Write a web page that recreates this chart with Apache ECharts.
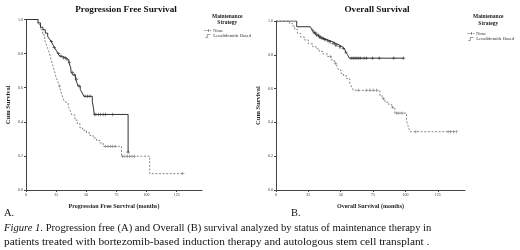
<!DOCTYPE html>
<html><head><meta charset="utf-8">
<script src="https://cdn.jsdelivr.net/npm/echarts@6/dist/echarts.min.js"></script>
<style>html,body{margin:0;padding:0;background:#fff}#c{width:520px;height:250px}</style>
</head><body><div id="c"></div>
<script>
// ---- Data ----
var xTicks = [0, 25, 50, 75, 100, 125];
var yTicks = [0, 0.2, 0.4, 0.6, 0.8, 1.0];
var seriesNames = ['None', 'Lenalidomide Based'];

// Progression free survival - Lenalidomide Based (event times, survival after event)
var pfsLenaT = [0, 10, 12, 14, 16, 18, 19.5, 21, 22.5, 23.5, 25, 26.5, 28, 30, 33, 35.5, 37, 37.5, 39, 41, 42.5, 43, 45, 46.5, 48, 55, 56, 56.6, 84.7];
var pfsLenaS = [1, 0.98, 0.955, 0.94, 0.92, 0.90, 0.885, 0.87, 0.85, 0.835, 0.82, 0.80, 0.785, 0.775, 0.765, 0.748, 0.72, 0.69, 0.675, 0.65, 0.625, 0.61, 0.59, 0.57, 0.55, 0.52, 0.48, 0.443, 0.222];
var pfsLenaCens = [21, 23.5, 27, 29, 31, 32.5, 34, 36, 38.5, 40, 42, 44, 49, 51, 53, 57, 58, 60, 62, 64, 66, 72, 84.7];

// Progression free survival - None
var pfsNoneT = [0, 10, 12, 13.8, 15.5, 17, 18, 19.5, 21, 22, 23.5, 25, 26.2, 27.5, 29, 30.5, 31.7, 33, 35, 36.4, 38, 40.6, 42.5, 44.7, 47, 50.2, 53, 55.7, 58.5, 61.3, 64, 79.2, 102.6, 130];
var pfsNoneS = [1, 0.97, 0.94, 0.91, 0.88, 0.85, 0.83, 0.80, 0.76, 0.735, 0.70, 0.66, 0.64, 0.61, 0.575, 0.545, 0.52, 0.51, 0.49, 0.47, 0.44, 0.41, 0.39, 0.365, 0.35, 0.335, 0.32, 0.305, 0.29, 0.276, 0.256, 0.198, 0.096, 0.096];
var pfsNoneCens = [28, 66, 68, 70, 72, 74, 80, 82, 84, 86, 88, 90, 130];

// Overall survival - Lenalidomide Based
var osLenaT = [0, 16, 26.5, 28, 29.5, 31, 33, 35, 37, 39, 41, 43.7, 46, 48.9, 51, 52.7, 54, 55.3, 56.6, 98.5];
var osLenaS = [1, 0.966, 0.955, 0.945, 0.93, 0.917, 0.905, 0.897, 0.89, 0.885, 0.877, 0.868, 0.858, 0.848, 0.838, 0.828, 0.815, 0.80, 0.78, 0.78];
var osLenaCens = [28.5, 29.5, 30.5, 31.5, 32.5, 33.5, 34.5, 35.5, 36.5, 37.5, 38.5, 40, 41, 42, 44, 45, 46, 47, 49, 50, 52, 54, 58, 59.5, 61, 62.5, 64, 65.5, 68, 70, 74.6, 79.7, 91, 98.5];

// Overall survival - None
var osNoneT = [0, 10.5, 12.9, 14.5, 16.7, 19, 21.9, 25, 28.3, 31, 33.4, 36.5, 39.9, 42.5, 45, 47, 48.5, 50.2, 52, 54.5, 57, 58.5, 59.7, 80.2, 82, 84.1, 87, 89.3, 91.8, 100.8, 102, 103.4, 139.4];
var osNoneS = [1, 0.985, 0.97, 0.95, 0.927, 0.905, 0.888, 0.865, 0.848, 0.835, 0.82, 0.805, 0.79, 0.77, 0.75, 0.73, 0.71, 0.69, 0.675, 0.66, 0.63, 0.61, 0.59, 0.56, 0.54, 0.52, 0.505, 0.49, 0.455, 0.41, 0.38, 0.345, 0.345];
var osNoneCens = [42, 46, 63.5, 70, 72.5, 75, 77.7, 83, 90, 93, 95, 97.5, 108, 133, 135, 137, 139.4];

// ---- helpers ----
function pairs(t, s) { return t.map(function (v, i) { return [v, s[i]]; }); }
function survAt(t, s, x) { var v = s[0]; for (var i = 0; i < t.length; i++) { if (t[i] <= x) v = s[i]; } return v; }
function cens(t, s, c) { return c.map(function (x) { return [x, survAt(t, s, x)]; }); }

var SERIF = '"Liberation Serif", "DejaVu Serif", serif';
var solidCol = '#333', dashCol = '#858585', axisCol = '#444';
var plus = 'path://M-1,-0.18H1V0.18H-1Z M-0.18,-1H0.18V1H-0.18Z';

function xAxis(idx, name) {
  return {
    gridIndex: idx, type: 'value', min: 0, max: 146,
    name: name, nameLocation: 'middle', nameGap: 13,
    nameTextStyle: { fontFamily: SERIF, fontWeight: 'bold', fontSize: 6, color: '#222' },
    axisLine: { lineStyle: { color: axisCol, width: 1 } },
    axisTick: { customValues: xTicks, length: 2, lineStyle: { color: axisCol } },
    axisLabel: { customValues: xTicks, fontSize: 4, fontFamily: SERIF, color: '#333', margin: 3 },
    splitLine: { show: false }
  };
}
function yAxis(idx) {
  return {
    gridIndex: idx, type: 'value', min: 0, max: 1, interval: 0.2,
    name: 'Cum Survival', nameLocation: 'middle', nameGap: 14, nameRotate: 90,
    nameTextStyle: { fontFamily: SERIF, fontWeight: 'bold', fontSize: 6.5, color: '#222' },
    axisLine: { show: true, lineStyle: { color: axisCol, width: 1 } },
    axisTick: { show: true, length: 2, lineStyle: { color: axisCol } },
    axisLabel: { fontSize: 4, fontFamily: SERIF, color: '#333', margin: 3, formatter: function (v) { return v.toFixed(1); } },
    splitLine: { show: false }
  };
}
function stepSeries(name, idx, data, dashed) {
  return {
    name: name, type: 'line', step: 'end', xAxisIndex: idx, yAxisIndex: idx,
    data: data, showSymbol: false, symbol: 'none', animation: false, silent: true,
    lineStyle: { color: dashed ? dashCol : solidCol, width: 1, type: dashed ? [2, 1.6] : 'solid' },
    itemStyle: { color: dashed ? dashCol : solidCol }
  };
}
function censSeries(name, idx, data, dashed) {
  return {
    name: name, type: 'scatter', xAxisIndex: idx, yAxisIndex: idx, data: data,
    symbol: plus, symbolSize: 3.4, animation: false, silent: true,
    itemStyle: { color: dashed ? '#6f6f6f' : '#1e1e1e' }
  };
}
function legendOf(left, top) {
  return {
    data: [{ name: 'None', icon: 'path://M0,5H3M4,5H7M8,5H10M6,3V7' }, { name: 'Lenalidomide Based', icon: 'path://M0,8H4V2H10' }],
    orient: 'vertical', left: left, top: top, itemGap: 0.5, itemWidth: 7, itemHeight: 3,
    selectedMode: false,
    textStyle: { fontFamily: SERIF, fontSize: 4.6, color: '#333', padding: [0, 0, 0, -3] },
    itemStyle: { color: 'transparent', borderColor: '#555', borderWidth: 0.6 },
    padding: 0
  };
}

var chart = echarts.init(document.getElementById('c'), null, { renderer: 'canvas' });
chart.setOption({
  backgroundColor: '#fff',
  animation: false,
  title: [
    { text: 'Progression Free Survival', left: 121, top: 0, textAlign: 'center', textStyle: { fontFamily: SERIF, fontWeight: 'bold', fontSize: 9.2, color: '#111' } },
    { text: 'Overall Survival', left: 372, top: 0, textAlign: 'center', textStyle: { fontFamily: SERIF, fontWeight: 'bold', fontSize: 9.2, color: '#111' } }
  ],
  grid: [
    { left: 26, top: 19.5, width: 176, height: 170.5 },
    { left: 276, top: 21, width: 189, height: 169 }
  ],
  xAxis: [xAxis(0, 'Progression Free Survival (months)'), xAxis(1, 'Overall Survival (months)')],
  yAxis: [yAxis(0), yAxis(1)],
  legend: [legendOf(204, 28), legendOf(467, 31)],
  series: [
    stepSeries('None', 0, pairs(pfsNoneT, pfsNoneS), true),
    stepSeries('Lenalidomide Based', 0, pairs(pfsLenaT, pfsLenaS), false),
    censSeries('None', 0, cens(pfsNoneT, pfsNoneS, pfsNoneCens), true),
    censSeries('Lenalidomide Based', 0, cens(pfsLenaT, pfsLenaS, pfsLenaCens), false),
    stepSeries('None', 1, pairs(osNoneT, osNoneS), true),
    stepSeries('Lenalidomide Based', 1, pairs(osLenaT, osLenaS), false),
    censSeries('None', 1, cens(osNoneT, osNoneS, osNoneCens), true),
    censSeries('Lenalidomide Based', 1, cens(osLenaT, osLenaS, osLenaCens), false)
  ],
  graphic: [
    { type: 'text', left: 212, top: 13, style: { text: 'Maintenance\nStrategy', font: 'bold 5.5px ' + SERIF, fill: '#222', textAlign: 'center', lineHeight: 6.5 } },
    { type: 'text', left: 473, top: 13.5, style: { text: 'Maintenance\nStrategy', font: 'bold 5.5px ' + SERIF, fill: '#222', textAlign: 'center', lineHeight: 7 } },
    { type: 'text', left: 4, top: 208, style: { text: 'A.', font: '10.5px ' + SERIF, fill: '#111' } },
    { type: 'text', left: 291, top: 208, style: { text: 'B.', font: '10.5px ' + SERIF, fill: '#111' } },
    { type: 'text', left: 4, top: 223, style: {
        text: '{i|Figure 1.} Progression free (A) and Overall (B) survival analyzed by status of maintenance therapy in',
        font: '10.6px ' + SERIF, fill: '#111',
        rich: { i: { font: 'italic 10.6px ' + SERIF, fill: '#111' } } } },
    { type: 'text', left: 4, top: 236.5, style: {
        text: 'patients treated with bortezomib-based induction therapy and autologous stem cell transplant .',
        font: '11.3px ' + SERIF, fill: '#111' } }
  ]
});
</script></body></html>
